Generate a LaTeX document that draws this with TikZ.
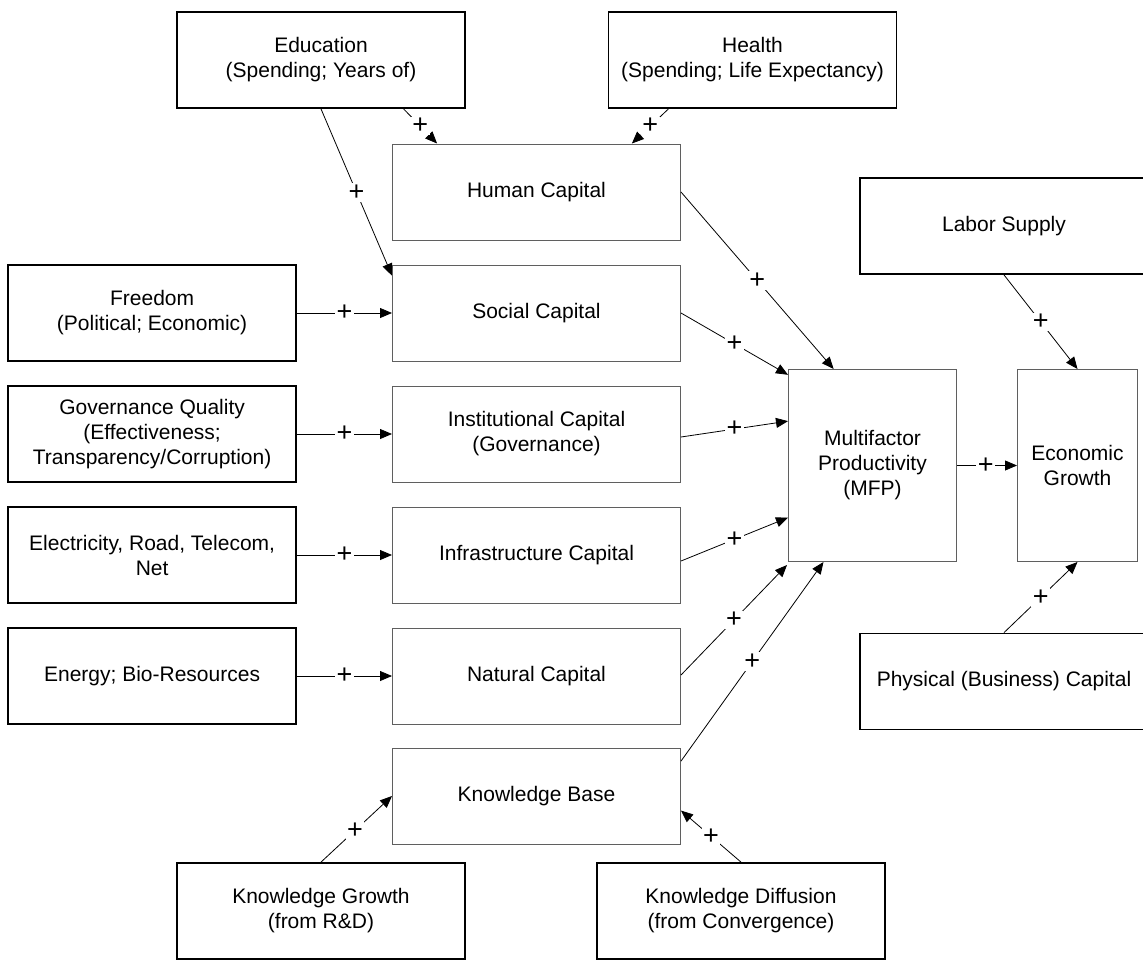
\documentclass[tikz,border=0pt]{standalone}
\usepackage{fontspec}
\setmainfont{Liberation Sans}
\usetikzlibrary{arrows.meta, positioning, calc}
\definecolor{framegray}{RGB}{95, 95, 95}

\begin{document}
\begin{tikzpicture}[
    x=1pt, y=-1pt,
    node distance=24pt and 95pt,
    >={Triangle[length=12pt, width=10pt]},
    % Node styles
    driver/.style={rectangle, draw=black, line width=1.8pt, minimum width=288pt, minimum height=96pt, inner sep=0pt, align=center, font=\fontsize{21}{25}\selectfont},
    capital/.style={rectangle, draw=framegray, line width=1pt, minimum width=288pt, minimum height=96pt, inner sep=0pt, align=center, font=\fontsize{21}{25}\selectfont},
    % Arrow styles
    arrow/.style={->, line width=0.8pt, color=black},
    plus/.style={fill=white, inner sep=1.5pt, font=\fontsize{27}{27}\selectfont},
]
\useasboundingbox (0,0) rectangle (1143,959);

% Capital column
\node (human) [capital] at (536.5,192) {Human Capital};
\node (social) [capital, below=of human] {Social Capital};
\node (inst) [capital, below=of social] {Institutional Capital\\(Governance)};
\node (infra) [capital, below=of inst] {Infrastructure Capital};
\node (natural) [capital, below=of infra] {Natural Capital};
\node (kb) [capital, below=23pt of natural] {Knowledge Base};

% Drivers on the left
\node (freedom) [driver, left=of social] {Freedom\\(Political; Economic)};
\node (govern) [driver, left=of inst] {Governance Quality\\(Effectiveness;\\Transparency/Corruption)};
\node (elec) [driver, left=of infra] {Electricity, Road, Telecom,\\Net};
\node (energy) [driver, left=of natural] {Energy; Bio-Resources};

% Drivers on top and bottom
\node (edu) [driver] at (321,60) {Education\\(Spending; Years of)};
\node (health) [driver] at (752.5,60) {Health\\(Spending; Life Expectancy)};
\node (kgrowth) [driver] at (321,911) {Knowledge Growth\\(from R\&D)};
\node (kdiff) [driver] at (741,911) {Knowledge Diffusion\\(from Convergence)};

% Productivity and growth
\node (mfp) [capital, minimum width=168pt, minimum height=192pt] at (872.5,465.5) {Multifactor\\Productivity\\(MFP)};
\node (growth) [capital, right=60pt of mfp, minimum width=120pt, minimum height=192pt] {Economic\\Growth};
\node (labor) [driver] at (1004,226) {Labor Supply};
\node (physical) [driver] at (1004,681.5) {Physical (Business) Capital};

% Arrows - into the capitals
\draw [arrow] ($(edu.south west)!0.785!(edu.south east)$) -- node[plus] {+} ($(human.north west)!0.156!(human.north east)$);
\draw [arrow] ($(health.south west)!0.21!(health.south east)$) -- node[plus] {+} ($(human.north west)!0.83!(human.north east)$);
\draw [arrow] (edu.south) -- node[plus] {+} ($(social.north west)!0.115!(social.south west)$);
\draw [arrow] (freedom) -- node[plus] {+} (social);
\draw [arrow] (govern) -- node[plus] {+} (inst);
\draw [arrow] (elec) -- node[plus] {+} (infra);
\draw [arrow] (energy) -- node[plus] {+} (natural);
\draw [arrow] (kgrowth.north) -- node[plus, pos=0.48] {+} (kb.west);
\draw [arrow] (kdiff.north) -- node[plus] {+} ($(kb.north east)!0.65!(kb.south east)$);

% Arrows - capitals to MFP
\draw [arrow] (human.east) -- node[plus] {+} ($(mfp.north west)!0.27!(mfp.north east)$);
\draw [arrow] (social.east) -- node[plus] {+} ($(mfp.north west)!0.03!(mfp.south west)$);
\draw [arrow] ([yshift=-3pt]inst.east) -- node[plus] {+} ($(mfp.north west)!0.27!(mfp.south west)$);
\draw [arrow] ([yshift=-6pt]infra.east) -- node[plus] {+} ($(mfp.north west)!0.77!(mfp.south west)$);
\draw [arrow] ([yshift=1pt]natural.east) -- node[plus] {+} ([xshift=-1pt, yshift=-3pt]mfp.south west);
\draw [arrow] ($(kb.north east)!0.14!(kb.south east)$) -- node[plus] {+} ($(mfp.south west)!0.21!(mfp.south east)$);

% Arrows - into growth
\draw [arrow] (mfp) -- node[plus, pos=0.48] {+} (growth);
\draw [arrow] (labor.south) -- node[plus] {+} (growth.north);
\draw [arrow] (physical.north) -- node[plus] {+} (growth.south);

\end{tikzpicture}
\end{document}
